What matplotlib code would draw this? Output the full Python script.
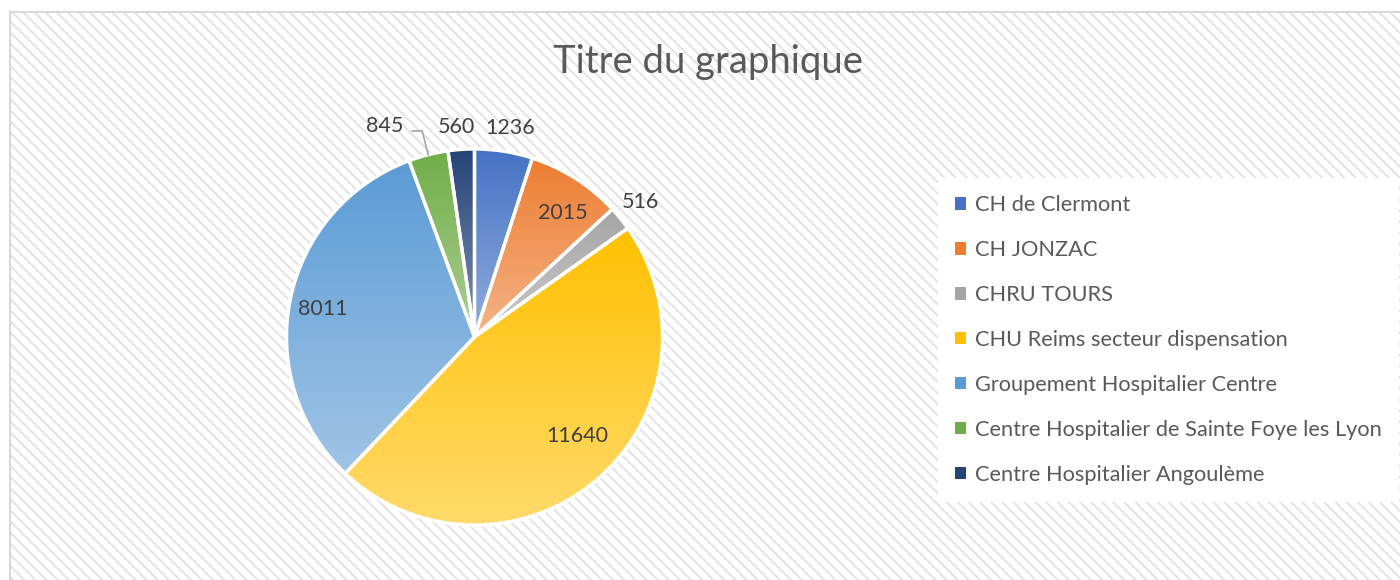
import numpy as np
import matplotlib
matplotlib.use("Agg")
import matplotlib.pyplot as plt
from matplotlib.patches import Rectangle, Patch
from matplotlib.lines import Line2D
from matplotlib.colors import to_rgb

etablissements = ["CH de Clermont", "CH JONZAC", "CHRU TOURS",
                  "CHU Reims secteur dispensation", "Groupement Hospitalier Centre",
                  "Centre Hospitalier de Sainte Foye les Lyon", "Centre Hospitalier Angoulème"]
quantites = [1236, 2015, 516, 11640, 8011, 845, 560]
couleurs = ["#4472C4", "#ED7D31", "#A5A5A5", "#FFC000", "#5B9BD5", "#70AD47", "#264478"]

# placement des etiquettes (rayon relatif, decalage d'angle en degres)
rayon_etiq = [1.13, 0.81, 1.14, 0.76, 0.82, 1.22, 1.12]
decal_etiq = [-0.6, -2.7, 0.0, 5.0, 1.0, 8.7, 0.8]

plt.rcParams['font.family'] = ['Lato', 'DejaVu Sans']
plt.rcParams['hatch.linewidth'] = 1.4

W, H = 1400, 580
fig = plt.figure(figsize=(W / 100, H / 100), dpi=100)
fig.patch.set_facecolor("white")

# fond hachure de la zone de graphique
fig.patches.append(Rectangle((10 / W, -0.1), 1.2, 1 - 12 / H + 0.1, transform=fig.transFigure,
                             facecolor="white", edgecolor="#E3E3E3", hatch="\\\\\\", lw=0, zorder=-2))
fig.patches.append(Rectangle((10 / W, -0.1), 1.2, 1 - 12 / H + 0.1, transform=fig.transFigure,
                             facecolor="none", edgecolor="#D9D9D9", lw=1.5, zorder=-1))

cx, cy, r = 474.5, 337, 188
ax = fig.add_axes([(cx - r) / W, (H - cy - r) / H, 2 * r / W, 2 * r / H])
ax.set_xlim(-1, 1)
ax.set_ylim(-1, 1)
ax.axis("off")

wedges, _ = ax.pie(quantites, startangle=90, counterclock=False, radius=1,
                   colors=couleurs, wedgeprops=dict(edgecolor="white", linewidth=2.4))

t = np.linspace(0, 1, 256)[:, None, None]
for w, c in zip(wedges, couleurs):
    haut = np.array(to_rgb(c))
    bas = haut * 0.58 + 0.42
    grad = haut * (1 - t) + bas * t
    verts = w.get_path().vertices
    verts = w.get_patch_transform().transform(verts)
    x0, y0 = verts.min(axis=0)
    x1, y1 = verts.max(axis=0)
    im = ax.imshow(grad, extent=[x0, x1, y0, y1], origin="upper", aspect="auto",
                   interpolation="bilinear", zorder=1)
    im.set_clip_path(w)
    w.set_facecolor("none")
    w.set_zorder(2)

ax.set_xlim(-1, 1)
ax.set_ylim(-1, 1)

total = sum(quantites)
debut = 90.0
for i, q in enumerate(quantites):
    span = q / total * 360
    milieu = debut - span / 2
    debut -= span
    a = np.deg2rad(milieu + decal_etiq[i])
    lx, ly = rayon_etiq[i] * np.cos(a), rayon_etiq[i] * np.sin(a)
    ax.text(lx, ly, str(q), ha="center", va="center", fontsize=15.5, color="#404040", zorder=5)
    if rayon_etiq[i] > 1.2:
        am = np.deg2rad(milieu)
        ex, ey = np.cos(am), np.sin(am)
        ax.add_line(Line2D([lx + 0.145, ex - 0.032, ex], [ly - 0.027, ly - 0.027, ey],
                           color="#A6A6A6", lw=1.2, zorder=5, clip_on=False))

fig.text(708 / W, 1 - 62 / H, "Titre du graphique", ha="center", va="center",
         fontsize=27.5, color="#595959")

poignees = [Patch(facecolor=c, edgecolor="none") for c in couleurs]
leg = fig.legend(poignees, etablissements, loc="upper left",
                 bbox_to_anchor=(938 / W, 1 - 178 / H), fontsize=15.7, labelcolor="#595959",
                 frameon=True, facecolor="white", edgecolor="none", framealpha=1, fancybox=False,
                 handlelength=0.5, handleheight=0.5, handletextpad=0.4, labelspacing=1.14,
                 borderpad=0.8, borderaxespad=0)

fig.savefig("out.png", dpi=100)
